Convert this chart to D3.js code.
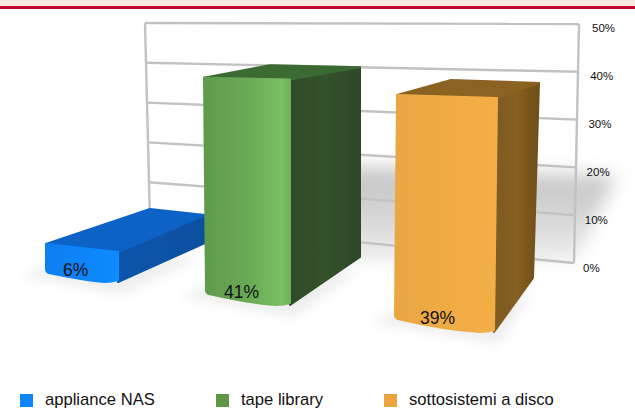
<!DOCTYPE html>
<html><head><meta charset="utf-8">
<script src="https://cdn.jsdelivr.net/npm/d3@7"></script>
<style>html,body{margin:0;background:#fff}svg{display:block}text{font-family:"Liberation Sans",Arial,sans-serif;fill:#111}</style>
</head><body><div id="c"></div>
<script>
const categories = ["appliance NAS","tape library","sottosistemi a disco"];
const values = [6,41,39];
const ticks = [0,10,20,30,40,50];

const W=635,H=417;
const svg=d3.select("#c").append("svg").attr("width",W).attr("height",H);
const defs=svg.append("defs");
[["b0",0.7],["b1",6],["b2",9],["b3",0.5]].forEach(([id,s])=>{
  defs.append("filter").attr("id",id).attr("x","-40%").attr("y","-40%").attr("width","180%").attr("height","180%")
    .append("feGaussianBlur").attr("stdDeviation",s);
});
function grad(id,stops,vertical){
  const g=defs.append("linearGradient").attr("id",id);
  if(vertical) g.attr("x2",0).attr("y2",1);
  stops.forEach(([o,c])=>g.append("stop").attr("offset",o).attr("stop-color",c));
}
grad("f0",[[0,"#0a7ff0"],[0.6,"#0a85fb"],[1,"#0b8cff"]]);
grad("f1",[[0,"#5f9a4c"],[0.55,"#6aab56"],[0.9,"#79c163"],[1,"#6fb25a"]]);
grad("f2",[[0,"#e9a642"],[0.5,"#f0ab44"],[1,"#f4ae46"]]);
grad("s0",[[0,"#0a55ad"],[1,"#0a4f9f"]]);
grad("s1",[[0,"#2f4a29"],[0.5,"#34532c"],[1,"#2d4727"]]);
grad("s2",[[0,"#7d5a22"],[0.5,"#865f20"],[1,"#6f4f1d"]]);
grad("wallShade",[[0,"#c2c2c2"],[0.55,"#d6d6d6"],[1,"#efefef"]],true);

svg.append("rect").attr("width",W).attr("height",6).attr("fill","#f7e9df");
svg.append("rect").attr("y",6).attr("width",W).attr("height",3).attr("fill","#c4002d");

// back wall: the same value scale seen at its two perspective edges
const yL=d3.scaleLinear().domain([0,50]).range([222,23]);
const yR=d3.scaleLinear().domain([0,50]).range([263,24]);
const xL=d3.scaleLinear().domain([0,50]).range([150,145]);
const xR=d3.scaleLinear().domain([0,50]).range([574,579]);

// wall shadow
const gs=svg.append("g");
gs.append("path").attr("filter","url(#b2)").attr("fill","url(#wallShade)")
  .attr("d",d3.line()([[300,165],[616,176],[575,262],[300,262]]));
gs.append("rect").attr("x",300).attr("y",272).attr("width",330).attr("height",60).attr("fill","#fff").attr("filter","url(#b1)");

const grid=svg.append("g").attr("fill","none").attr("stroke","#c2c2c2").attr("stroke-width",2.4).attr("filter","url(#b3)");
grid.selectAll("line").data(ticks).join("line")
  .attr("x1",d=>xL(d)).attr("y1",d=>yL(d)).attr("x2",d=>xR(d)).attr("y2",d=>yR(d));
grid.append("line").attr("x1",xL(50)).attr("y1",yL(50)).attr("x2",xL(0)).attr("y2",yL(0));
grid.append("line").attr("x1",xR(50)).attr("y1",yR(50)).attr("x2",xR(0)).attr("y2",yR(0));

// tick labels
const tickX=d3.scaleLinear().domain([0,50]).range([583,592]);
const tickY=d3.scaleLinear().domain([0,50]).range([272,32]);
svg.append("g").selectAll("text").data(ticks).join("text")
  .attr("x",d=>tickX(d)).attr("y",d=>tickY(d)).attr("font-size",11.5).text(d=>d+"%");

// per-category perspective: footprint corners and height per percentage point at each vertical edge
const frontLT=d3.scaleOrdinal(categories,[46,204,397]);
const frontL=d3.scaleOrdinal(categories,[46,206,395]);
const frontR=d3.scaleOrdinal(categories,[118,290,494]);
const frontRT=d3.scaleOrdinal(categories,[118,290,497]);
const backR=d3.scaleOrdinal(categories,[205,360,533]);
const backRTop=d3.scaleOrdinal(categories,[205,360,539]);
const backLTop=d3.scaleOrdinal(categories,[150,270,451]);
const baseL=d3.scaleOrdinal(categories,[274,295,320]);
const baseF=d3.scaleOrdinal(categories,[282,305,332]);
const baseB=d3.scaleOrdinal(categories,[243,257,278]);
const unitL=d3.scaleOrdinal(categories,[5,5.3,5.77]);
const unitF=d3.scaleOrdinal(categories,[5,5.5,6]);
const unitB=d3.scaleOrdinal(categories,[4.67,4.63,5]);
const backGap=d3.scaleOrdinal(categories,[6,2,3]);

const fills=d3.scaleOrdinal(categories,["#0a85fb","#5f9747","#eba53c"]);
const topC=d3.scaleOrdinal(categories,["#0a62c6","#3b6a31","#8b6220"]);
const line=d3.line();

const rows=categories.map((c,i)=>({c,i,v:values[i]}));
// floor shadows
svg.append("g").selectAll("path").data(rows).join("path").attr("filter","url(#b1)")
  .attr("fill","#eeeeee")
  .attr("d",d=>line([[frontL(d.c)-25,baseL(d.c)+2],[frontR(d.c)+5,baseF(d.c)+12],[backR(d.c),baseB(d.c)+12],[frontL(d.c),baseL(d.c)-8]]));

const bars=svg.append("g").attr("filter","url(#b0)");
rows.forEach(d=>{
  const c=d.c,v=d.v;
  const tfy=baseF(c)-unitF(c)*v, tly=baseL(c)-unitL(c)*v, tby=baseB(c)-unitB(c)*v;
  const g=bars.append("g").attr("stroke-linejoin","round").attr("stroke-width",2);
  const fl=frontL(c),fr=frontR(c),flt=frontLT(c),frt=frontRT(c);
  // side
  g.append("path").attr("fill",`url(#s${d.i})`).attr("stroke",`url(#s${d.i})`)
   .attr("d",line([[frt,tfy],[backRTop(c),tby],[backR(c),baseB(c)],[fr,baseF(c)]])+"Z");
  // top
  g.append("path").attr("fill",topC(c)).attr("stroke",topC(c))
   .attr("d",line([[flt,tly],[backLTop(c),tby-backGap(c)],[backRTop(c),tby],[frt,tfy]])+"Z");
  // front, with a softly curved foot
  g.append("path").attr("fill",`url(#f${d.i})`).attr("stroke",`url(#f${d.i})`)
   .attr("d",`M${flt},${tly}L${frt},${tfy}L${fr},${baseF(c)-2}Q${fr-6},${baseF(c)} ${fr-14},${baseF(c)}Q${(fl+fr)/2},${baseF(c)-2} ${fl+3},${baseL(c)-1}Q${fl},${baseL(c)-2} ${fl},${baseL(c)-5}Z`);
});

// value labels
const labX=d3.scaleOrdinal(categories,[63,224,420]);
const labY=d3.scaleOrdinal(categories,[276,298,324]);
svg.append("g").selectAll("text").data(rows).join("text")
  .attr("x",d=>labX(d.c)).attr("y",d=>labY(d.c)).attr("font-size",17.5).text(d=>d.v+"%");

// legend
const legX=d3.scaleOrdinal(categories,[20,216,384]);
const leg=svg.append("g").selectAll("g").data(rows).join("g").attr("transform",d=>`translate(${legX(d.c)},394)`);
leg.append("rect").attr("width",13).attr("height",13).attr("fill",d=>fills(d.c));
leg.append("text").attr("x",25).attr("y",11).attr("font-size",16.6).text(d=>d.c);
</script></body></html>
